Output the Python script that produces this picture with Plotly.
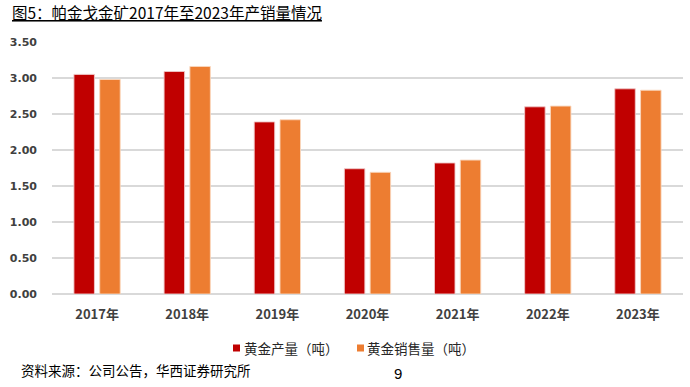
import plotly.graph_objects as go

years = ["2017年", "2018年", "2019年", "2020年", "2021年", "2022年", "2023年"]
production = [3.05, 3.09, 2.39, 1.74, 1.82, 2.60, 2.85]
sales = [2.98, 3.16, 2.42, 1.69, 1.86, 2.61, 2.83]
series_names = ["黄金产量（吨）", "黄金销售量（吨）"]
series_colors = ["#C00000", "#ED7D31"]
y_ticks = [0, 0.5, 1.0, 1.5, 2.0, 2.5, 3.0, 3.5]
y_tick_labels = ["0.00", "0.50", "1.00", "1.50", "2.00", "2.50", "3.00", "3.50"]

CJK = "Noto Sans CJK SC"
NUM = "DejaVu Sans"

W, H = 690, 387
ML, MR, MT, MB = 52, 7, 42, 93
PW, PH = W - ML - MR, H - MT - MB


def px(xw):
    return (xw - ML) / PW


def py(yw):
    return (H - MB - yw) / PH


fig = go.Figure()
fig.add_trace(go.Bar(
    x=years, y=production, name=series_names[0],
    marker=dict(color=series_colors[0], line=dict(color="rgba(240,200,200,0.9)", width=1)),
))
fig.add_trace(go.Bar(
    x=years, y=sales, name=series_names[1],
    marker=dict(color=series_colors[1], line=dict(color="rgba(250,215,190,0.9)", width=1)),
))

fig.update_layout(
    width=W, height=H,
    margin=dict(l=ML, r=MR, t=MT, b=MB),
    paper_bgcolor="white", plot_bgcolor="white",
    barmode="group", bargap=0.428, bargroupgap=0.205,
    showlegend=False,
    font=dict(family=CJK),
)

fig.update_xaxes(
    showgrid=False, showline=False, zeroline=False, ticks="",
    tickfont=dict(family=CJK, size=13, color="#404040", weight="bold"),
    ticklabelstandoff=11,
)
fig.update_yaxes(
    range=[0, 3.5], tickvals=y_ticks, ticktext=y_tick_labels,
    showgrid=True, gridcolor="#D9D9D9", gridwidth=1.5,
    zeroline=True, zerolinecolor="#D9D9D9", zerolinewidth=1.5,
    showline=False, ticks="",
    tickfont=dict(family=NUM, size=11, color="#404040", weight="bold"),
    ticklabelstandoff=14,
)

# title
fig.add_annotation(
    text="<u>图5：帕金戈金矿2017年至2023年产销量情况</u>",
    xref="paper", yref="paper", x=px(10), y=py(12),
    xanchor="left", yanchor="middle", showarrow=False,
    font=dict(family=CJK, size=15.5, color="#000000"),
)

# legend (squares + labels)
legend_sq_x = [233, 357]
legend_txt_x = [242, 365]
for name, color, sx, tx in zip(series_names, series_colors, legend_sq_x, legend_txt_x):
    fig.add_shape(
        type="rect", xref="paper", yref="paper",
        x0=px(sx), x1=px(sx + 7), y0=py(351.5), y1=py(344.5),
        fillcolor=color, line=dict(width=0),
    )
    fig.add_annotation(
        text=name, xref="paper", yref="paper", x=px(tx), y=py(348),
        xanchor="left", yanchor="middle", showarrow=False,
        font=dict(family=CJK, size=13.5, color="#262626"),
    )

# source and page number
fig.add_annotation(
    text="资料来源：公司公告，华西证券研究所",
    xref="paper", yref="paper", x=px(19), y=py(370),
    xanchor="left", yanchor="middle", showarrow=False,
    font=dict(family=CJK, size=13.5, color="#000000"),
)
fig.add_annotation(
    text="9",
    xref="paper", yref="paper", x=px(398), y=py(373),
    xanchor="center", yanchor="middle", showarrow=False,
    font=dict(family="Liberation Sans", size=15, color="#000000"),
)

# remove the browser's default 8px body margin so the figure fills the window
fig.write_html(
    "out.html",
    config={"displayModeBar": False},
    post_script="document.body.style.margin='0px';",
)
